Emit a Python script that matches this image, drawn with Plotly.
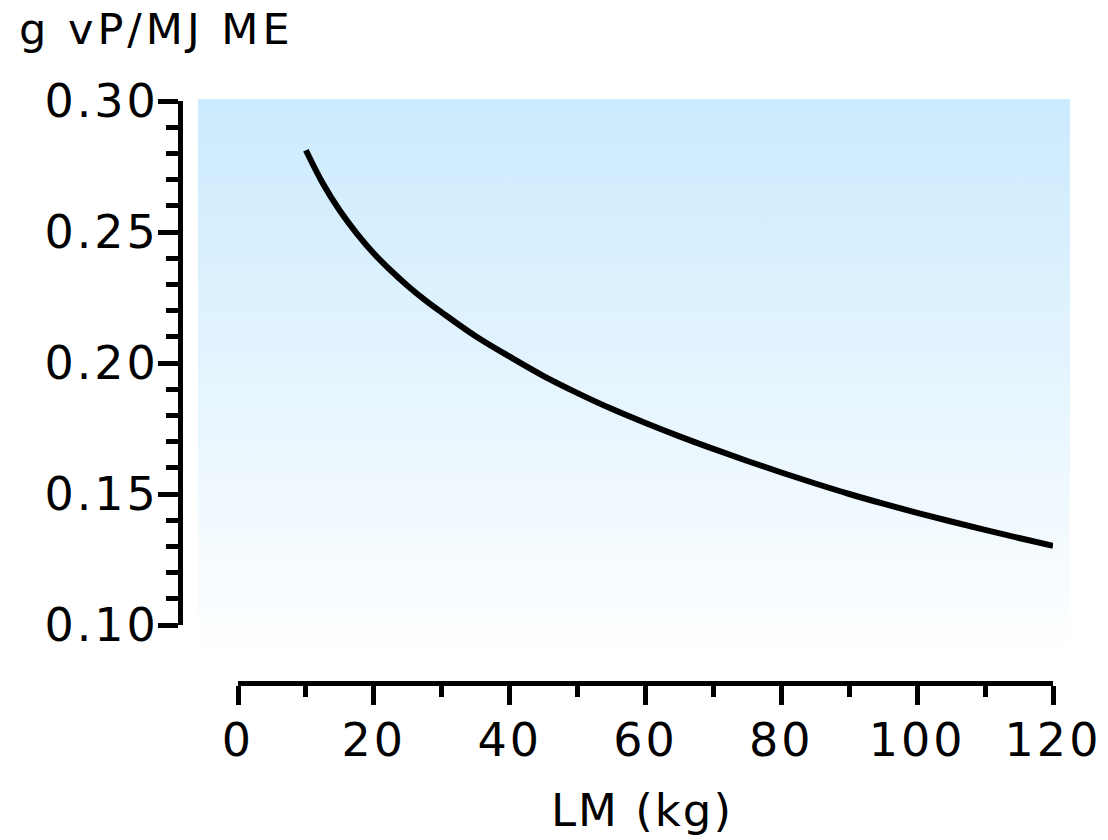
import base64
import plotly.graph_objects as go

# Data
lm_kg = [10, 12.5, 15, 17.5, 20, 22.5, 25, 27.5, 30, 35, 40, 45, 50, 55, 60, 65, 70, 75, 80, 85, 90, 95,
         100, 105, 110, 115, 120]
vp_per_mj = [0.2812, 0.2685, 0.2581, 0.2494, 0.2418, 0.2353, 0.2294, 0.2241, 0.2193, 0.2102, 0.2024, 0.1950,
             0.1885, 0.1825, 0.1771, 0.1720, 0.1672, 0.1626, 0.1582, 0.1540, 0.1500, 0.1463, 0.1428, 0.1395,
             0.1363, 0.1332, 0.1302]

x_ticks = [0, 20, 40, 60, 80, 100, 120]
x_tick_labels = ["0", "20", "40", "60", "80", "100", "120"]
y_ticks = [0.10, 0.15, 0.20, 0.25, 0.30]
y_tick_labels = ["0.10", "0.15", "0.20", "0.25", "0.30"]

W, H = 1108, 840
FONT = "DejaVu Sans"

def spaced(t, sp=3):
    return f'<span style="letter-spacing:{sp}px">{t}</span>'

def px_x(p):
    return p / W

def px_y(p):
    return 1 - p / H

fig = go.Figure()
fig.add_trace(go.Scatter(x=lm_kg, y=vp_per_mj, mode="lines",
                         line=dict(color="black", width=6, shape="spline", smoothing=1.0),
                         showlegend=False, hoverinfo="skip"))

svg = ('<svg xmlns="http://www.w3.org/2000/svg" width="100" height="100" preserveAspectRatio="none">'
       '<defs><linearGradient id="g" x1="0" y1="0" x2="0" y2="1">'
       '<stop offset="0" stop-color="#cbeafd"/><stop offset="1" stop-color="#ffffff"/>'
       '</linearGradient></defs><rect width="100" height="100" fill="url(#g)"/></svg>')
src = "data:image/svg+xml;base64," + base64.b64encode(svg.encode()).decode()

fig.add_layout_image(dict(source=src, xref="paper", yref="paper",
                          x=px_x(198), y=px_y(99), sizex=px_x(1070) - px_x(198),
                          sizey=px_y(99) - px_y(662), xanchor="left", yanchor="top",
                          sizing="stretch", layer="below"))

axis_common = dict(showgrid=False, zeroline=False, showline=True, linecolor="black", linewidth=5,
                   ticks="outside", tickcolor="black", tickwidth=5, automargin=False,
                   tickfont=dict(family=FONT, size=46, color="black"))

fig.update_layout(
    template="none",
    width=W, height=H, autosize=False,
    margin=dict(l=0, r=0, t=0, b=0, pad=0),
    paper_bgcolor="white", plot_bgcolor="rgba(0,0,0,0)",
    xaxis=dict(range=[0, 120], domain=[px_x(238), px_x(1053)], anchor="free", position=1 - 683 / H,
               tickvals=x_ticks, ticktext=[spaced(t) for t in x_tick_labels], ticklen=19,
               minor=dict(dtick=10, tick0=0, ticklen=11, tickwidth=5, tickcolor="black", ticks="outside"),
               ticklabelstandoff=-4,
               **axis_common),
    yaxis=dict(range=[0.10, 0.30], domain=[1 - 625 / H, 1 - 101 / H], anchor="free", position=180 / W,
               tickvals=y_ticks, ticktext=[spaced(t) for t in y_tick_labels], ticklen=20,
               minor=dict(dtick=0.01, tick0=0.1, ticklen=12, tickwidth=5, tickcolor="black", ticks="outside"),
               ticklabelstandoff=-10,
               **axis_common),
    annotations=[
        dict(text=spaced("g vP/MJ ME", 4), xref="paper", yref="paper", x=px_x(17), y=px_y(29),
             xanchor="left", yanchor="middle", showarrow=False,
             font=dict(family=FONT, size=43, color="black")),
        dict(text=spaced("LM (kg)", 2), xref="paper", yref="paper", x=px_x(642), y=px_y(810),
             xanchor="center", yanchor="middle", showarrow=False,
             font=dict(family=FONT, size=45, color="black")),
    ],
)

fig.write_html("out.html")
